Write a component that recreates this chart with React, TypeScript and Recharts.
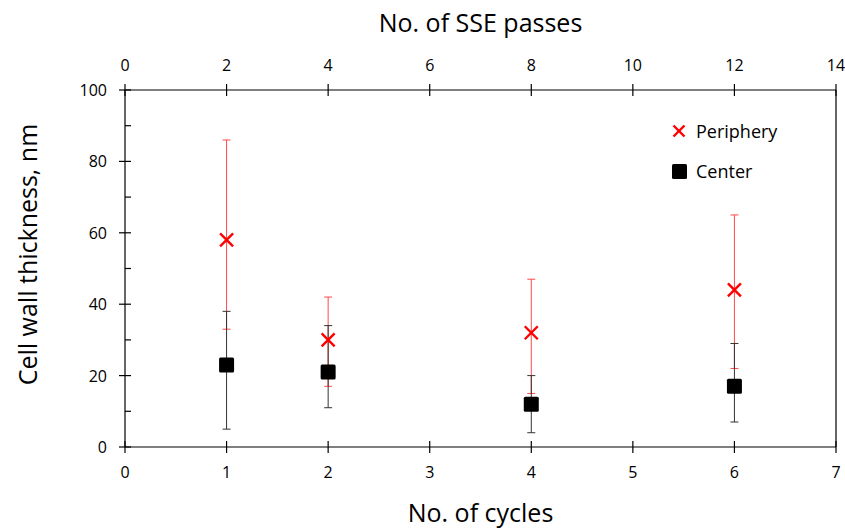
import React from 'react';
import {
  ScatterChart,
  Scatter,
  XAxis,
  YAxis,
  ErrorBar,
  ReferenceLine,
} from 'recharts';

// values
const cycles = [1, 2, 4, 6];
const ssePasses = [2, 4, 8, 12];
const peripheryMean = [58, 30, 32, 44];
const peripheryLow = [33, 17, 15, 22];
const peripheryHigh = [86, 42, 47, 65];
const centerMean = [23, 21, 12, 17];
const centerLow = [5, 11, 4, 7];
const centerHigh = [38, 34, 20, 29];

const cycleTicks = [0, 1, 2, 3, 4, 5, 6, 7];
const passTicks = [0, 2, 4, 6, 8, 10, 12, 14];
const thicknessTicks = [0, 10, 20, 30, 40, 50, 60, 70, 80, 90, 100];

const font = '"Open Sans", sans-serif';
const tickFont = 16;
const titleFont = 25;

const periphery = cycles.map((c, i) => ({
  x: c,
  y: peripheryMean[i],
  err: [peripheryMean[i] - peripheryLow[i], peripheryHigh[i] - peripheryMean[i]],
}));
const center = cycles.map((c, i) => ({
  x: c,
  y: centerMean[i],
  err: [centerMean[i] - centerLow[i], centerHigh[i] - centerMean[i]],
}));
const passes = ssePasses.map((p, i) => ({ x: p, y: peripheryMean[i] }));

const BottomTick = (props: any) => {
  const { x, y, payload } = props;
  return (
    <g>
      <line x1={x} x2={x} y1={y - 6} y2={y + 6} stroke="#000" strokeWidth={1.2} />
      <text x={x} y={y + 31} textAnchor="middle" fontSize={tickFont} fontFamily={font} fill="#000">
        {payload.value}
      </text>
    </g>
  );
};

const TopTick = (props: any) => {
  const { x, y, payload } = props;
  return (
    <g>
      <line x1={x} x2={x} y1={y - 6} y2={y + 6} stroke="#000" strokeWidth={1.2} />
      <text x={x} y={y - 19} textAnchor="middle" fontSize={tickFont} fontFamily={font} fill="#000">
        {payload.value}
      </text>
    </g>
  );
};

const LeftTick = (props: any) => {
  const { x, y, payload } = props;
  const major = payload.value % 20 === 0;
  if (!major) {
    return <line x1={x} x2={x + 6} y1={y} y2={y} stroke="#000" strokeWidth={1.2} />;
  }
  return (
    <g>
      <line x1={x - 6} x2={x + 6} y1={y} y2={y} stroke="#000" strokeWidth={1.2} />
      <text x={x - 18} y={y + 6} textAnchor="end" fontSize={tickFont} fontFamily={font} fill="#000">
        {payload.value}
      </text>
    </g>
  );
};

// y-axis title, sits a little above the plot's middle like the original
const YTitle = (props: any) => {
  const { viewBox } = props;
  const cx = 27;
  const cy = viewBox.y + viewBox.height / 2 - 14;
  return (
    <text
      x={cx}
      y={cy}
      transform={`rotate(-90, ${cx}, ${cy})`}
      textAnchor="middle"
      dominantBaseline="central"
      fontSize={titleFont}
      fontFamily={font}
      fill="#000"
    >
      Cell wall thickness, nm
    </text>
  );
};

const Cross = (props: any) => {
  const { cx, cy } = props;
  const r = 6.5;
  return (
    <g stroke="#ff0000" strokeWidth={2.4}>
      <line x1={cx - r} y1={cy - r} x2={cx + r} y2={cy + r} />
      <line x1={cx - r} y1={cy + r} x2={cx + r} y2={cy - r} />
    </g>
  );
};

const Square = (props: any) => {
  const { cx, cy } = props;
  return <rect x={cx - 7.5} y={cy - 7.5} width={15} height={15} rx={1.5} fill="#000" />;
};

const Nothing = () => <g />;

const LegendBox = () => (
  <div
    style={{
      position: 'absolute',
      left: 672,
      top: 120,
      fontFamily: font,
      fontSize: 18,
      color: '#000',
      lineHeight: '22px',
    }}
  >
    <div style={{ display: 'flex', alignItems: 'center', marginBottom: 18 }}>
      <svg width={14} height={14} style={{ marginRight: 10 }}>
        <line x1={1.5} y1={1.5} x2={12.5} y2={12.5} stroke="#ff0000" strokeWidth={2.4} />
        <line x1={1.5} y1={12.5} x2={12.5} y2={1.5} stroke="#ff0000" strokeWidth={2.4} />
      </svg>
      Periphery
    </div>
    <div style={{ display: 'flex', alignItems: 'center' }}>
      <svg width={15} height={15} style={{ marginRight: 9 }}>
        <rect x={0} y={0} width={15} height={15} rx={1.5} fill="#000" />
      </svg>
      Center
    </div>
  </div>
);

export default function App() {
  return (
    <div style={{ position: 'relative', width: 845, height: 529, background: '#fff' }}>
      <style>{'body{margin:0}'}</style>
      <ScatterChart
        width={845}
        height={529}
        margin={{ top: 0, right: 9, bottom: 0, left: 0 }}
      >
        <XAxis
          xAxisId="bottom"
          type="number"
          dataKey="x"
          domain={[0, 7]}
          ticks={cycleTicks}
          orientation="bottom"
          height={82}
          stroke="#000"
          strokeWidth={1.2}
          tickLine={false}
          tickSize={0}
          tickMargin={0}
          tick={<BottomTick />}
          label={{ value: 'No. of cycles', position: 'insideBottom', offset: 7, fontSize: titleFont, fill: '#000', fontFamily: font }}
        />
        <XAxis
          xAxisId="top"
          type="number"
          dataKey="x"
          domain={[0, 14]}
          ticks={passTicks}
          orientation="top"
          height={90}
          stroke="#000"
          strokeWidth={1.2}
          tickLine={false}
          tickSize={0}
          tickMargin={0}
          tick={<TopTick />}
          label={{ value: 'No. of SSE passes', position: 'insideTop', offset: 14, fontSize: titleFont, fill: '#000', fontFamily: font }}
        />
        <YAxis
          yAxisId="left"
          type="number"
          dataKey="y"
          domain={[0, 100]}
          ticks={thicknessTicks}
          width={125}
          stroke="#000"
          strokeWidth={1.2}
          tickLine={false}
          tickSize={0}
          tickMargin={0}
          tick={<LeftTick />}
          interval={0}
          label={<YTitle />}
        />
        <ReferenceLine xAxisId="bottom" yAxisId="left" x={7} stroke="#000" strokeWidth={1.2} />
        <Scatter
          name="passes"
          data={passes}
          xAxisId="top"
          yAxisId="left"
          shape={<Nothing />}
          isAnimationActive={false}
          legendType="none"
        />
        <Scatter
          name="Periphery"
          data={periphery}
          xAxisId="bottom"
          yAxisId="left"
          shape={<Cross />}
          isAnimationActive={false}
        >
          <ErrorBar dataKey="err" direction="y" width={4} stroke="#ff4a4a" strokeWidth={1} isAnimationActive={false} />
        </Scatter>
        <Scatter
          name="Center"
          data={center}
          xAxisId="bottom"
          yAxisId="left"
          shape={<Square />}
          isAnimationActive={false}
        >
          <ErrorBar dataKey="err" direction="y" width={4} stroke="#333" strokeWidth={1} isAnimationActive={false} />
        </Scatter>
      </ScatterChart>
      <LegendBox />
    </div>
  );
}
